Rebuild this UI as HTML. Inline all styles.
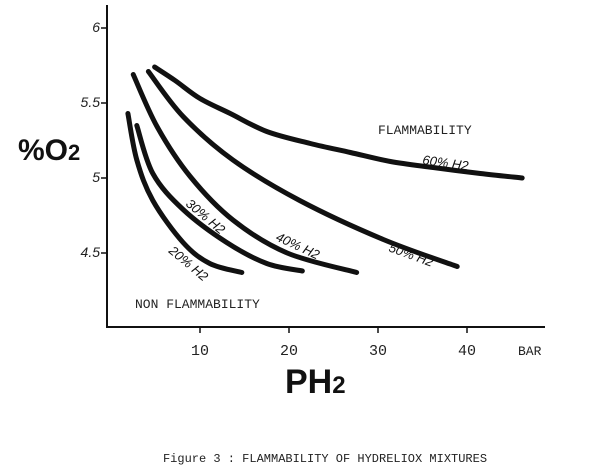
<!DOCTYPE html>
<html><head><meta charset="utf-8"><style>
body{margin:0;background:#fff;width:600px;height:471px;overflow:hidden}
svg{display:block}
.t{font-family:"Liberation Mono",monospace;fill:#222}
</style></head><body>
<svg id="c" width="600" height="471">
<line x1="107" y1="5" x2="107" y2="328" stroke="#111" stroke-width="2"/>
<line x1="106" y1="327" x2="545" y2="327" stroke="#111" stroke-width="2"/>
<text x="18" y="160" font-family="Liberation Sans,sans-serif" font-size="30" font-weight="bold" fill="#111">%O<tspan font-size="22">2</tspan></text>
<text x="285" y="393" font-family="Liberation Sans,sans-serif" font-size="34" font-weight="bold" fill="#111">PH<tspan font-size="24">2</tspan></text>
<text x="135" y="308" class="t" font-size="13">NON FLAMMABILITY</text>
<text x="378" y="134" class="t" font-size="13">FLAMMABILITY</text>
<text x="518" y="355" class="t" font-size="13">BAR</text>
<text x="325" y="462" text-anchor="middle" class="t" font-size="12">Figure 3 : FLAMMABILITY OF HYDRELIOX MIXTURES</text>
<g id="marks"></g>
</svg>
<script>
const xTicks=[10,20,30,40];
const yTicks=[4.5,5,5.5,6];
const yTickLabels=["4.5","5","5.5","6"];
const seriesNames=["20% H2","30% H2","40% H2","50% H2","60% H2"];
const s20x=[1.9,2.9,4.7,8.1,11.1,14.7], s20y=[5.43,5.12,4.85,4.57,4.43,4.37];
const s30x=[2.9,4.7,8.1,13.0,17.5,21.5], s30y=[5.35,5.03,4.79,4.57,4.43,4.38];
const s40x=[2.5,5.2,8.9,13.7,19.8,27.6], s40y=[5.69,5.34,5.01,4.72,4.50,4.37];
const s50x=[4.2,8.1,13.7,21.2,30.6,38.9], s50y=[5.71,5.41,5.12,4.85,4.59,4.41];
const s60x=[4.9,7.2,10.0,13.4,17.5,22.4,26.9,31.4,36.2,41.5,46.2], s60y=[5.74,5.65,5.53,5.43,5.31,5.23,5.17,5.11,5.07,5.03,5.00];
const X=v=>111+v*8.9, Y=v=>28+(6-v)*150;
const NS="http://www.w3.org/2000/svg", g=document.getElementById('marks');
function mk(t,a){const e=document.createElementNS(NS,t);for(const k in a)e.setAttribute(k,a[k]);g.appendChild(e);return e;}
xTicks.forEach(v=>{
 const tk=mk('line',{x1:X(v),x2:X(v),y1:327,y2:333,stroke:'#111','stroke-width':1.5});
 
 
 const tl=mk('text',{x:X(v),y:355,'text-anchor':'middle','font-family':'Liberation Mono,monospace','font-size':15,fill:'#222'});
 tl.textContent=String(v);
 
 
});
yTicks.forEach((v,i)=>{
 const tk=mk('line',{x1:101,x2:107,y1:Y(v),y2:Y(v),stroke:'#111','stroke-width':1.5});
 
 
 const tl=mk('text',{x:100,y:Y(v)+4,'text-anchor':'end','font-family':'Liberation Sans,sans-serif','font-style':'italic','font-size':14,fill:'#222'});
 tl.textContent=yTickLabels[i];
 
 
});
function path(xs,ys){
 const p=xs.map((x,i)=>[X(x),Y(ys[i])]);
 let d='M'+p[0][0]+','+p[0][1];
 for(let i=0;i<p.length-1;i++){
  const p0=p[Math.max(i-1,0)],p1=p[i],p2=p[i+1],p3=p[Math.min(i+2,p.length-1)];
  d+=' C'+(p1[0]+(p2[0]-p0[0])/6)+','+(p1[1]+(p2[1]-p0[1])/6)+' '+(p2[0]-(p3[0]-p1[0])/6)+','+(p2[1]-(p3[1]-p1[1])/6)+' '+p2[0]+','+p2[1];
 }
 return d;
}
const all=[[s20x,s20y],[s30x,s30y],[s40x,s40y],[s50x,s50y],[s60x,s60y]];
all.forEach((s,i)=>{
 const c=mk('path',{d:path(s[0],s[1]),fill:'none',stroke:'#111','stroke-width':5,'stroke-linecap':'round'});
 
 
});
const lab=[[168,252,40],[185,205,40],[275,240,25],[388,251,20],[422,164,8]];
lab.forEach((l,i)=>{
 const t=mk('text',{x:l[0],y:l[1],transform:'rotate('+l[2]+' '+l[0]+' '+l[1]+')','font-family':'Liberation Sans,sans-serif','font-style':'italic','font-size':13,fill:'#111'});
 t.textContent=seriesNames[i];
 
 
});
</script>
</body></html>
